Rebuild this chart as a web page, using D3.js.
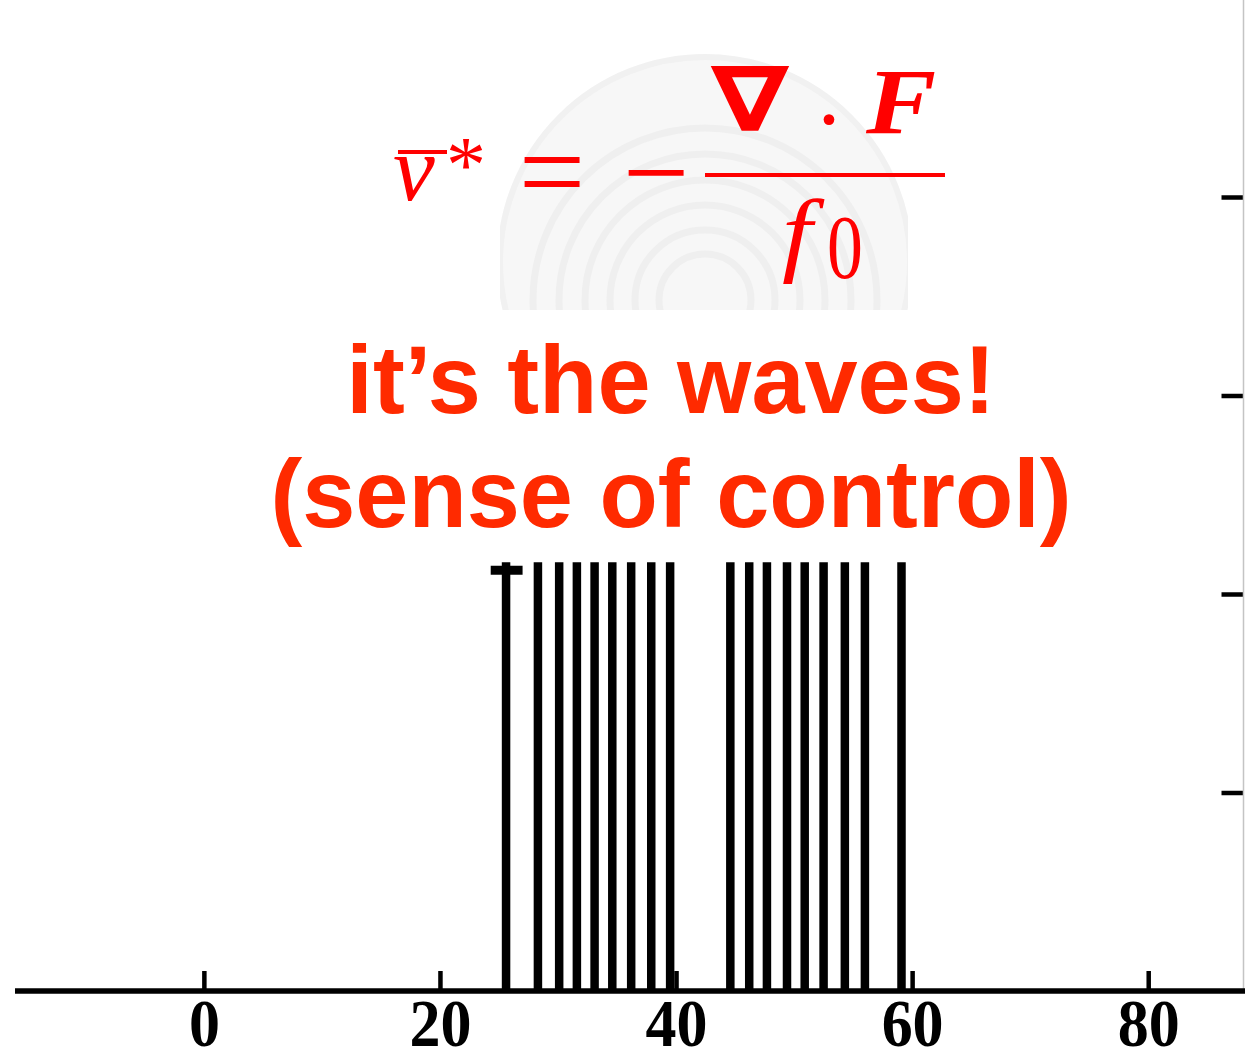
<!DOCTYPE html>
<html>
<head>
<meta charset="utf-8">
<script src="https://cdn.jsdelivr.net/npm/d3@7"></script>
<style>
  html, body { margin: 0; padding: 0; background: #fff; }
  svg { display: block; }
</style>
</head>
<body>
<svg id="chart" width="1245" height="1062"></svg>
<script>
// Spike positions along the axis and their heights
const spikePositions = [25.6, 28.3, 30.1, 31.6, 33.1, 34.6, 36.2, 37.9, 39.5,
                        44.6, 46.2, 47.7, 49.4, 50.9, 52.5, 54.3, 56.0, 59.1];
const spikeHeights   = [2.16, 2.16, 2.16, 2.16, 2.16, 2.16, 2.16, 2.16, 2.16,
                        2.16, 2.16, 2.16, 2.16, 2.16, 2.16, 2.16, 2.16, 2.16];
// Cap across the top of the first spike
const capSpan = [24.3, 27.0];
const capLevel = 2.12;

const xTickValues = [0, 20, 40, 60, 80];
const xTickLabels = ["0", "20", "40", "60", "80"];
const yTickValues = [1, 2, 3, 4];

const headline = ["it\u2019s the waves!", "(sense of control)"];

const svg = d3.select("#chart");

const x = d3.scaleLinear().domain([-16, 88.2]).range([15, 1245]);
const y = d3.scaleLinear().domain([0, 4]).range([991, 197]);

// faint seal watermark behind the formula
const defs = svg.append("defs");
defs.append("clipPath").attr("id", "sealClip")
  .append("rect").attr("x", 500).attr("y", 40).attr("width", 408).attr("height", 270);
const seal = svg.append("g").attr("clip-path", "url(#sealClip)").attr("opacity", 0.8);
seal.append("circle").attr("cx", 705).attr("cy", 262).attr("r", 205)
  .attr("fill", "#f6f6f6").attr("stroke", "#eeeeee").attr("stroke-width", 6);
[172, 146, 120, 95, 70, 46].forEach(r => {
  seal.append("circle").attr("cx", 705).attr("cy", 300).attr("r", r)
    .attr("fill", "none").attr("stroke", "#ececec").attr("stroke-width", 7);
});

// right-hand axis (inward ticks)
const yAxis = svg.append("g").attr("transform", "translate(1243.5,0)")
  .call(d3.axisLeft(y).tickValues(yTickValues).tickSize(22).tickFormat(""));
yAxis.select(".domain").remove();
yAxis.selectAll(".tick line").attr("stroke", "#000").attr("stroke-width", 4.5);
svg.append("line").attr("x1", 1243.5).attr("x2", 1243.5).attr("y1", 0).attr("y2", y(0))
  .attr("stroke", "#c4c4c4").attr("stroke-width", 1.5);

// spikes
svg.append("g").selectAll("line.spike")
  .data(spikePositions.map((p, i) => ({p, h: spikeHeights[i]})))
  .join("line").attr("class", "spike")
  .attr("x1", d => x(d.p)).attr("x2", d => x(d.p))
  .attr("y1", y(0)).attr("y2", d => y(d.h))
  .attr("stroke", "#000").attr("stroke-width", 8.5);
svg.append("line")
  .attr("x1", x(capSpan[0])).attr("x2", x(capSpan[1]))
  .attr("y1", y(capLevel)).attr("y2", y(capLevel))
  .attr("stroke", "#000").attr("stroke-width", 9);

// bottom axis with upward ticks
const xAxis = svg.append("g").attr("transform", `translate(0,${y(0)})`)
  .call(d3.axisBottom(x).tickValues(xTickValues).tickSize(-20)
    .tickFormat((d, i) => xTickLabels[i]));
xAxis.select(".domain").attr("stroke", "#000").attr("stroke-width", 5.5)
  .attr("d", `M${x(-16)},0H${x(88.2)}`);
xAxis.selectAll(".tick line").attr("stroke", "#000").attr("stroke-width", 4.5);
xAxis.selectAll(".tick text")
  .attr("y", 0).attr("dy", null)
  .attr("transform", "translate(0,55) scale(1,1.1)")
  .attr("fill", "#000")
  .style("font-family", "'Liberation Serif', 'Times New Roman', serif")
  .style("font-weight", "bold")
  .style("font-size", "62px");

// headline
const hl = svg.append("g")
  .style("font-family", "'Liberation Sans', Arial, sans-serif")
  .style("font-weight", "bold").style("font-size", "95.5px")
  .attr("fill", "#ff2a00").attr("text-anchor", "middle");
hl.selectAll("text").data(headline).join("text")
  .attr("x", 671).attr("y", (d, i) => 413 + i * 114).text(d => d);

// formula: v-bar* = - (nabla . F) / f0
const red = "#ff0000";
const fm = svg.append("g").attr("fill", red)
  .style("font-family", "'Liberation Serif', 'Times New Roman', serif");
fm.append("text").attr("x", 393).attr("y", 200).style("font-style", "italic")
  .style("font-size", "94px").text("v");
fm.append("line").attr("x1", 398).attr("x2", 447).attr("y1", 152).attr("y2", 152)
  .attr("stroke", red).attr("stroke-width", 4);
fm.append("text").attr("x", 466).attr("y", 192).attr("text-anchor", "middle")
  .style("font-size", "80px").text("*");
fm.append("text").attr("x", 552).attr("y", 212).attr("text-anchor", "middle")
  .style("font-size", "118px").text("=");
fm.append("text").attr("x", 656).attr("y", 212).attr("text-anchor", "middle")
  .style("font-size", "118px").text("\u2212");
fm.append("line").attr("x1", 705).attr("x2", 945).attr("y1", 175).attr("y2", 175)
  .attr("stroke", red).attr("stroke-width", 4);
fm.append("text").attr("transform", "translate(750,131) scale(1.25,1)")
  .attr("text-anchor", "middle")
  .style("font-family", "'DejaVu Sans', sans-serif").style("font-weight", "bold")
  .style("font-size", "90px").text("\u2207");
fm.append("text").attr("x", 829).attr("y", 150).attr("text-anchor", "middle")
  .style("font-size", "90px").text("\u00b7");
fm.append("text").attr("transform", "translate(866,133) scale(1.12,1)")
  .style("font-weight", "bold").style("font-style", "italic")
  .style("font-size", "94px").text("F");
fm.append("text").attr("transform", "translate(782,264) scale(1.15,1)")
  .style("font-style", "italic")
  .style("font-size", "94px").text("f");
fm.append("text").attr("transform", "translate(845,278) scale(0.78,1)")
  .attr("text-anchor", "middle").style("font-size", "92px").text("0");
</script>
</body>
</html>
